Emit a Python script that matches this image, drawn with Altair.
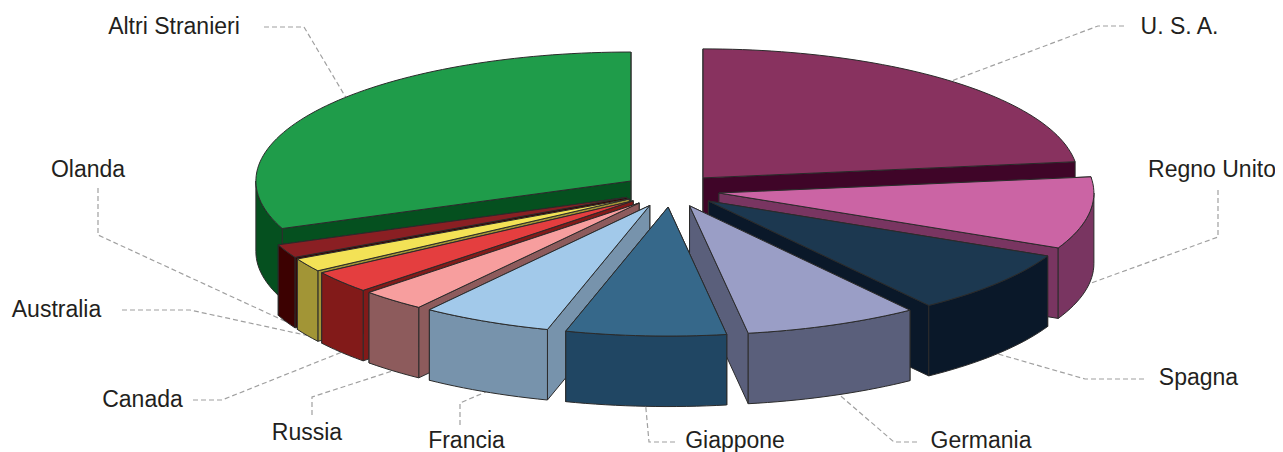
import math
import altair as alt

countries = ["U. S. A.", "Regno Unito", "Spagna", "Germania", "Giappone", "Francia",
             "Russia", "Canada", "Australia", "Olanda", "Altri Stranieri"]
shares = [23.0, 9.0, 8.0, 7.5, 6.9, 5.6, 2.8, 2.8, 1.7, 1.7, 31.0]
top_colors = ["#88325f", "#cb64a4", "#1c3850", "#9a9ec6", "#36688a", "#a2c9ea",
              "#f79e9e", "#e43e3f", "#f3e256", "#8a1f23", "#1f9c4a"]
wall_colors = ["#3f0528", "#793561", "#0a1829", "#5a5f7b", "#204663", "#7793ac",
               "#8d5b5c", "#821a19", "#a29536", "#3c0101", "#05501f"]
# label centres and leader elbows (page pixels)
label_x = [1179.5, 1212, 1198.5, 981, 735, 466.5, 307, 142.5, 56.5, 88, 174]
label_y = [27, 170, 378, 441, 441, 441, 433, 400, 310, 170, 27]
leader_start = [(1124, 26), (1218, 190), (1144, 379), (917, 442), (675, 442), (460, 425),
                (312, 415), (193, 400), (122, 310), (98, 188), (264, 27)]
leader_elbow = [(1098, 26), (1218, 237), (1085, 379), (894, 442), (649, 442), (460, 403),
                (312, 397), (222, 400), (190, 310), (98, 235), (304, 27)]
leader_shift = [0, 0, 0, -1, 0, 0, 0, 0, 0, 0, 6.3]

# layout of the 3D pie, in page pixels
M = 8
CX, CY, RX, RY, DEPTH, EXPLODE = 671 - M, 190.4 - M, 375, 129, 70.5, 48.5
K = RY / RX


def rim(ax, ay, t, drop=0.0):
    a = math.radians(t)
    return [ax + RX * math.sin(a), ay - RY * math.cos(a) + drop]


def feature(coords, fill):
    ring = [list(p) for p in coords]
    ring.append(ring[0])
    return {"type": "Feature", "properties": {"fill": fill},
            "geometry": {"type": "Polygon", "coordinates": [ring]}}


slices = []
acc = 0.0
total = sum(shares)
for i, s in enumerate(shares):
    t0 = acc / total * 360
    acc += s
    t1 = acc / total * 360
    mid = (t0 + t1) / 2
    m = math.radians(mid)
    ax = CX + EXPLODE * math.sin(m)
    ay = CY - EXPLODE * K * math.cos(m)
    slices.append(dict(i=i, t0=t0, t1=t1, mid=mid, ax=ax, ay=ay))

faces = []
for sl in sorted(slices, key=lambda d: -abs(d["mid"] - 180)):
    i, t0, t1, ax, ay = sl["i"], sl["t0"], sl["t1"], sl["ax"], sl["ay"]
    # the two cut walls, farther one first
    for t in sorted([t0, t1], key=lambda v: -abs(v - 180)):
        p = rim(ax, ay, t)
        q = rim(ax, ay, t, DEPTH)
        faces.append(feature([[ax, ay], p, q, [ax, ay + DEPTH]], wall_colors[i]))
    # curved outer wall, only where it faces the viewer
    lo, hi = max(t0, 90), min(t1, 270)
    if hi > lo:
        n = max(2, int((hi - lo) / 1.5))
        ts = [lo + (hi - lo) * k / n for k in range(n + 1)]
        faces.append(feature([rim(ax, ay, t) for t in ts] +
                             [rim(ax, ay, t, DEPTH) for t in reversed(ts)], wall_colors[i]))
    # top face
    n = max(2, int((t1 - t0) / 1.5))
    ts = [t0 + (t1 - t0) * k / n for k in range(n + 1)]
    faces.append(feature([[ax, ay]] + [rim(ax, ay, t) for t in ts], top_colors[i]))

leaders = []
for sl in slices:
    i = sl["i"]
    drop = DEPTH if math.cos(math.radians(sl["mid"])) < 0 else 0
    end = rim(sl["ax"], sl["ay"], sl["mid"] + leader_shift[i], drop)
    pts = [[leader_start[i][0] - M, leader_start[i][1] - M],
           [leader_elbow[i][0] - M, leader_elbow[i][1] - M], end]
    leaders.append({"type": "Feature", "properties": {"name": countries[i]},
                    "geometry": {"type": "LineString", "coordinates": pts}})

projection = alt.Projection(type="identity", scale=1, translate=[0, 0])

leader_layer = alt.Chart(alt.Data(values=leaders)).mark_geoshape(
    filled=False, stroke="#a0a0a0", strokeWidth=1.2, strokeDash=[5, 3]
).project(**projection.to_dict())

pie_layer = alt.Chart(alt.Data(values=faces)).mark_geoshape(
    stroke="#2b2b2b", strokeWidth=1, strokeJoin="round"
).encode(
    fill=alt.Fill("properties.fill:N", scale=None, legend=None)
).project(**projection.to_dict())

labels = [{"name": c, "x": x - M, "y": y - M} for c, x, y in zip(countries, label_x, label_y)]
label_layer = alt.Chart(alt.Data(values=labels)).mark_text(
    font="Liberation Sans", fontSize=23, color="#231f20", align="center", baseline="middle"
).encode(
    x=alt.X("x:Q", scale=None, axis=None),
    y=alt.Y("y:Q", scale=None, axis=None),
    text="name:N",
)

chart = alt.layer(leader_layer, pie_layer, label_layer).properties(
    width=1267, height=444, padding=0, autosize=alt.AutoSizeParams(type="none")
).configure_view(stroke=None)

chart.save("out.html", embed_options={"renderer": "svg", "actions": False})
